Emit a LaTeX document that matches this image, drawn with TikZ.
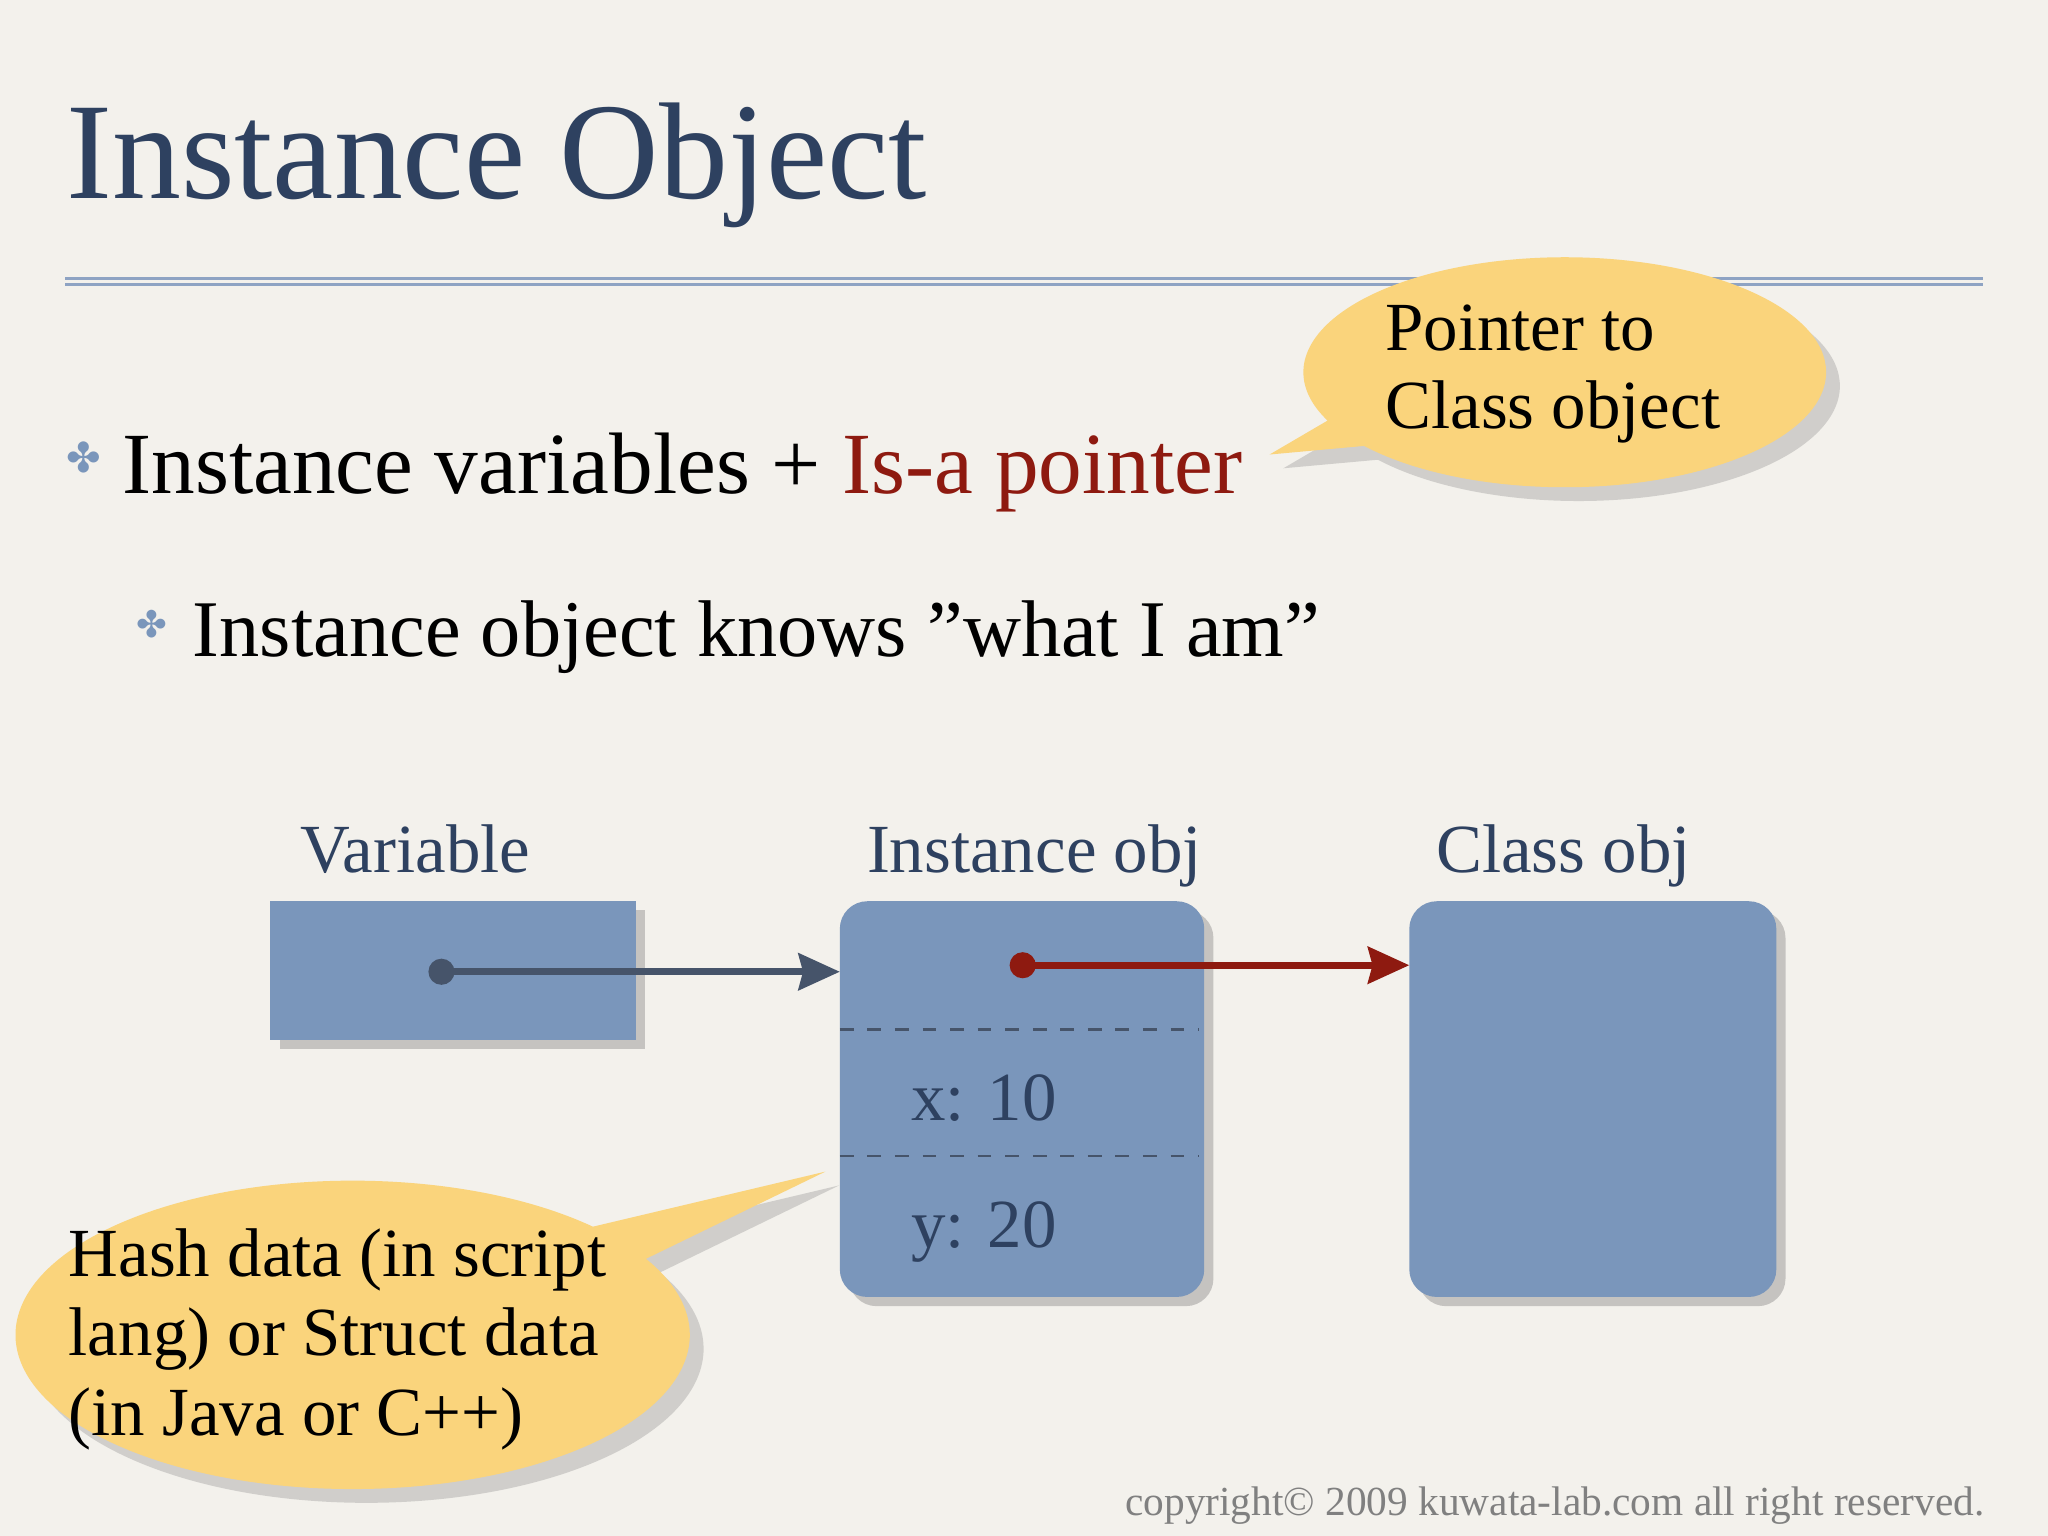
\documentclass[tikz,border=0pt]{standalone}
\usepackage{fontspec}
\setmainfont{Liberation Serif}
\newfontfamily\symf{DejaVu Sans}
\usetikzlibrary{shapes.callouts,shadows,arrows.meta}
\definecolor{bg}{HTML}{F3F1EC}
\definecolor{boxc}{HTML}{7A96BB}
\definecolor{titlec}{HTML}{2E4160}
\definecolor{darkc}{HTML}{46546A}
\definecolor{redc}{HTML}{8E1A10}
\definecolor{yel}{HTML}{FAD47C}
\definecolor{linec}{HTML}{8EA3C3}
\tikzset{
 box/.style={fill=boxc,draw=none,drop shadow={shadow xshift=2pt,shadow yshift=-2pt,opacity=.4}},
 lbl/.style={text=titlec,font=\fontsize{15}{17}\selectfont,inner sep=0},
 call/.style={ellipse callout,fill=yel,draw=none,drop shadow={shadow xshift=3pt,shadow yshift=-3pt,opacity=.3}},
}
\begin{document}
\begin{tikzpicture}[x=0.01cm,y=-0.01cm]
\useasboundingbox (0,0) rectangle (1568,1176);
\clip (0,0) rectangle (1568,1176);
\fill[bg] (0,0) rectangle (1568,1176);
\node[anchor=base west,inner sep=0,text=titlec,font=\fontsize{30}{34}\selectfont] (title) at (50,152) {Instance Object};
\draw[linec,line width=0.6pt] (50,213) -- (1518,213) (50,218) -- (1518,218);
\node[anchor=base west,inner sep=0,text=boxc,font=\symf\fontsize{9}{9}\selectfont] (b1) at (50,362) {✤};
\node[anchor=base west,inner sep=0,font=\fontsize{19}{22}\selectfont] (t1) at (93,378) {Instance variables + \textcolor{redc}{Is-a pointer}};
\node[anchor=base west,inner sep=0,text=boxc,font=\symf\fontsize{8}{8}\selectfont] (b2) at (104,488) {✤};
\node[anchor=base west,inner sep=0,font=\fontsize{17.5}{20}\selectfont] (t2) at (147,503) {Instance object knows \char"22 what I am\char"22};
% callout 1
\node[call,minimum width=4cm,minimum height=1.76cm,callout absolute pointer={(972,348)}] (c1) at (1198,285) {};
\node[anchor=north west,align=left,inner sep=0,font=\fontsize{15}{17}\selectfont] (c1t) at (1060,233) {Pointer to\\Class object};
% boxes
\node[lbl,anchor=base] (lv) at (318,668) {Variable};
\node[lbl,anchor=base] (li) at (792,668) {Instance obj};
\node[lbl,anchor=base] (lc) at (1197,668) {Class obj};
\path[box] (207,690) rectangle (487,796);
\path[box,rounded corners=6pt] (643,690) rectangle (922,993);
\path[box,rounded corners=6pt] (1079,690) rectangle (1360,993);
\coordinate (vd) at (338,744); \coordinate (ie) at (643,744);
\coordinate (id) at (783,739); \coordinate (ce) at (1079,739);
\fill[darkc] (vd) circle (10);
\draw[darkc,line width=1.5pt,-{Stealth[length=9pt,width=8pt,inset=1pt]}] (vd) -- (ie);
\fill[redc] (id) circle (10);
\draw[redc,line width=1.5pt,-{Stealth[length=9pt,width=8pt,inset=1pt]}] (id) -- (ce);
\draw[darkc,dashed,line width=0.6pt] (643,788) -- (918,788) (643,885) -- (918,885);
\node[lbl,anchor=base west] (x) at (697,858) {x: 10};
\node[lbl,anchor=base west] (y) at (697,955) {y: 20};
% callout 2
\node[call,minimum width=5.16cm,minimum height=2.36cm,callout absolute pointer={(632,897)}] (c2) at (270,1022) {};
\node[anchor=north west,align=left,inner sep=0,font=\fontsize{15}{17.3}\selectfont] (c2t) at (52,940) {Hash data (in script\\lang) or Struct data\\(in Java or C++)};
\node[anchor=base east,inner sep=0,text=gray,font=\fontsize{9}{10}\selectfont] (cp) at (1520,1160) {copyright© 2009 kuwata-lab.com all right reserved.};
\end{tikzpicture}
\end{document}
